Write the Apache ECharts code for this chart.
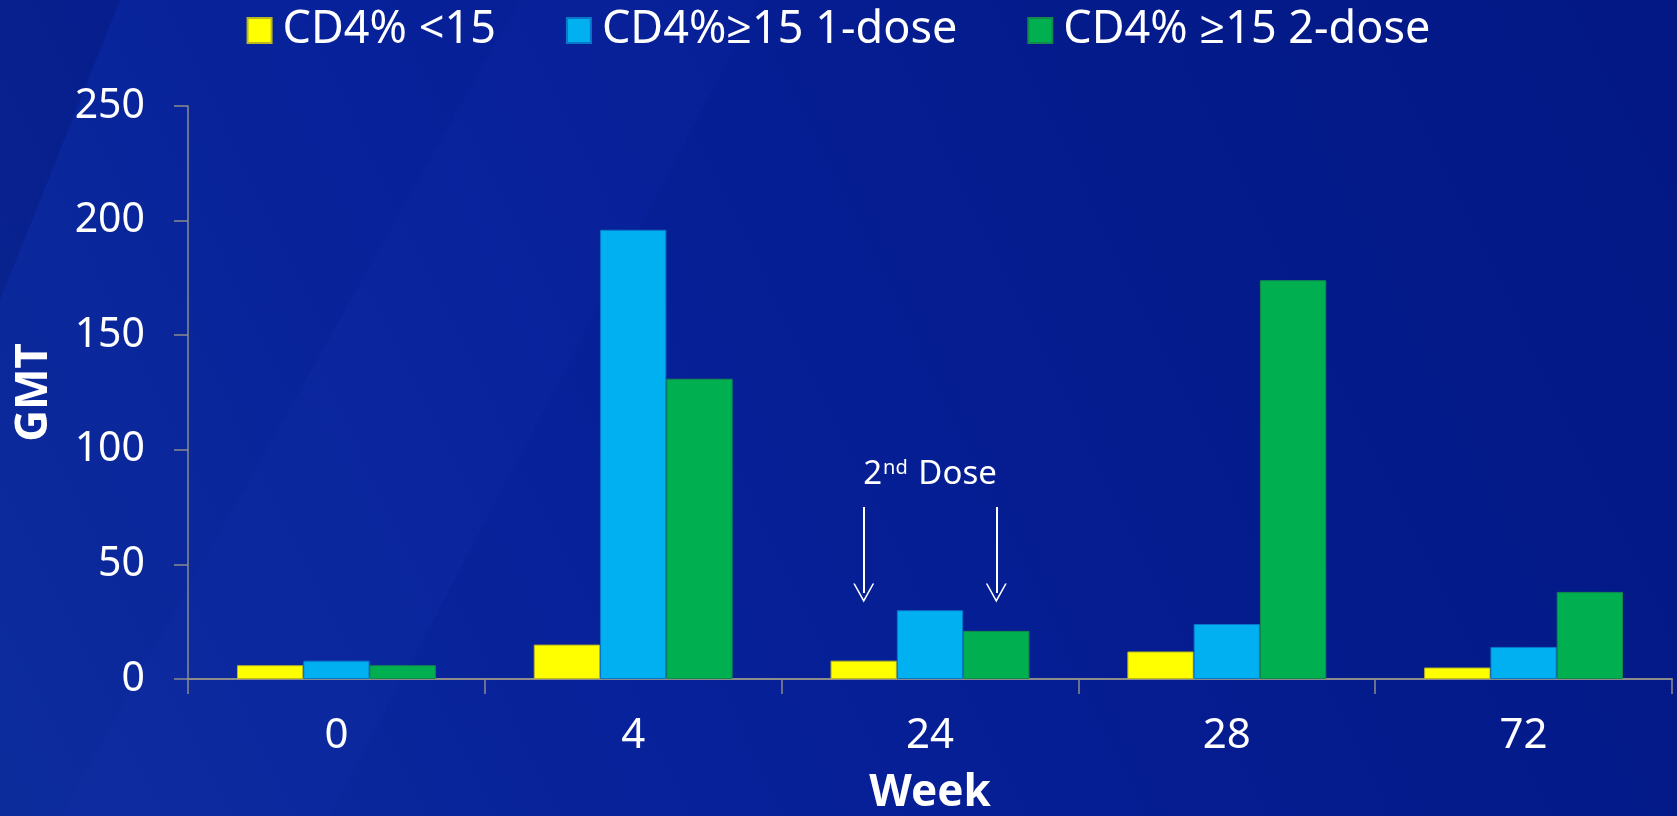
<!DOCTYPE html>
<html>
<head>
<meta charset="utf-8">
<script src="https://cdn.jsdelivr.net/npm/echarts@6/dist/echarts.min.js"></script>
<style>
html,body{margin:0;padding:0;background:#031986;}
#chart{width:1677px;height:816px;}
</style>
</head>
<body>
<div id="chart"></div>
<script>
const weeks = ['0', '4', '24', '28', '72'];
const seriesNames = ['CD4% <15', 'CD4%\u226515 1-dose', 'CD4% \u226515 2-dose'];
const cd4Low = [6, 15, 8, 12, 5];
const oneDose = [8, 196, 30, 24, 14];
const twoDose = [6, 131, 21, 174, 38];
const yTicks = { min: 0, max: 250, interval: 50 };
const doseWeek = '24';
const arrowTop = 75;
const arrowEnd = 37.5;
const doseLabelY = 89;

const FONT = '"Noto Sans", "Open Sans", sans-serif';
const chart = echarts.init(document.getElementById('chart'));

const arrowSymbol = 'path://M10,0 L20,17.5 L18.4,17.5 L10,3 L1.6,17.5 L0,17.5 Z';
function arrowLine() {
  return {
    silent: true,
    symbol: ['none', arrowSymbol],
    symbolSize: [21, 19],
    lineStyle: { color: '#ffffff', width: 2, type: 'solid' },
    itemStyle: { color: '#ffffff' },
    label: { show: false },
    emphasis: { disabled: true },
    animation: false,
    data: [[{ coord: [doseWeek, arrowTop] }, { coord: [doseWeek, arrowEnd] }]]
  };
}

const option = {
  backgroundColor: {
    type: 'linear', x: 0, y: 1, x2: 1, y2: 0,
    colorStops: [
      { offset: 0, color: '#0d2c9c' },
      { offset: 0.35, color: '#07219a' },
      { offset: 0.7, color: '#041b8c' },
      { offset: 1, color: '#031884' }
    ]
  },
  animation: false,
  textStyle: { fontFamily: FONT },
  graphic: [
    { type: 'polygon', silent: true, z: -10,
      shape: { points: [[0, 0], [120, 0], [0, 300]] },
      style: { fill: 'rgba(0,10,90,0.2)' } },
    { type: 'polygon', silent: true, z: -10,
      shape: { points: [[520, 0], [760, 0], [330, 816], [60, 816]] },
      style: { fill: 'rgba(40,70,210,0.08)' } }
  ],
  legend: {
    top: 3,
    left: 'center',
    itemWidth: 24,
    itemHeight: 25,
    itemGap: 70,
    icon: 'rect',
    textStyle: { color: '#ffffff', fontSize: 45, fontFamily: FONT, padding: [0, 0, 0, 6] },
    data: seriesNames
  },
  grid: { left: 188, right: 5, top: 106, bottom: 137, containLabel: false, outerBoundsMode: 'none' },
  xAxis: {
    type: 'category',
    data: weeks,
    name: 'Week',
    nameLocation: 'middle',
    nameGap: 92,
    nameTextStyle: { color: '#ffffff', fontSize: 44, fontWeight: 'bold', fontFamily: FONT },
    axisLine: { show: true, lineStyle: { color: '#8c8c8c', width: 2 } },
    axisTick: { show: true, length: 15, lineStyle: { color: '#8c8c8c', width: 1.5 } },
    axisLabel: { color: '#ffffff', fontSize: 42, margin: 36, fontFamily: FONT },
    splitLine: { show: false }
  },
  yAxis: {
    type: 'value',
    min: yTicks.min, max: yTicks.max, interval: yTicks.interval,
    name: 'GMT',
    nameLocation: 'middle',
    nameGap: 132,
    nameRotate: 90,
    nameTextStyle: { color: '#ffffff', fontSize: 44, fontWeight: 'bold', fontFamily: FONT },
    axisLine: { show: true, lineStyle: { color: '#8c8c8c', width: 1.5 } },
    axisTick: { show: true, length: 14, lineStyle: { color: '#8c8c8c', width: 1.5 } },
    axisLabel: { color: '#ffffff', fontSize: 41, margin: 43, fontFamily: FONT },
    splitLine: { show: false }
  },
  series: [
    {
      name: seriesNames[0], type: 'bar', data: cd4Low,
      barGap: '0%', barCategoryGap: '33%',
      itemStyle: { color: '#ffff00', borderColor: '#b8b820', borderWidth: 1 },
      markLine: arrowLine()
    },
    {
      name: seriesNames[1], type: 'bar', data: oneDose,
      barGap: '0%', barCategoryGap: '33%',
      itemStyle: { color: '#00b0f0', borderColor: '#0a78c8', borderWidth: 1 },
      markPoint: {
        silent: true,
        symbol: 'rect', symbolSize: 1,
        itemStyle: { color: 'rgba(0,0,0,0)' },
        label: {
          show: true, position: 'inside',
          formatter: '2{sup|nd} Dose',
          color: '#ffffff', fontSize: 33, fontFamily: FONT,
          rich: { sup: { fontSize: 20, color: '#ffffff', fontFamily: FONT, verticalAlign: 'top', padding: [0, 2, 14, 1] } }
        },
        data: [{ coord: [doseWeek, doseLabelY] }]
      }
    },
    {
      name: seriesNames[2], type: 'bar', data: twoDose,
      barGap: '0%', barCategoryGap: '33%',
      itemStyle: { color: '#00b050', borderColor: '#138a4a', borderWidth: 1 },
      markLine: arrowLine()
    }
  ]
};
chart.setOption(option);
</script>
</body>
</html>
